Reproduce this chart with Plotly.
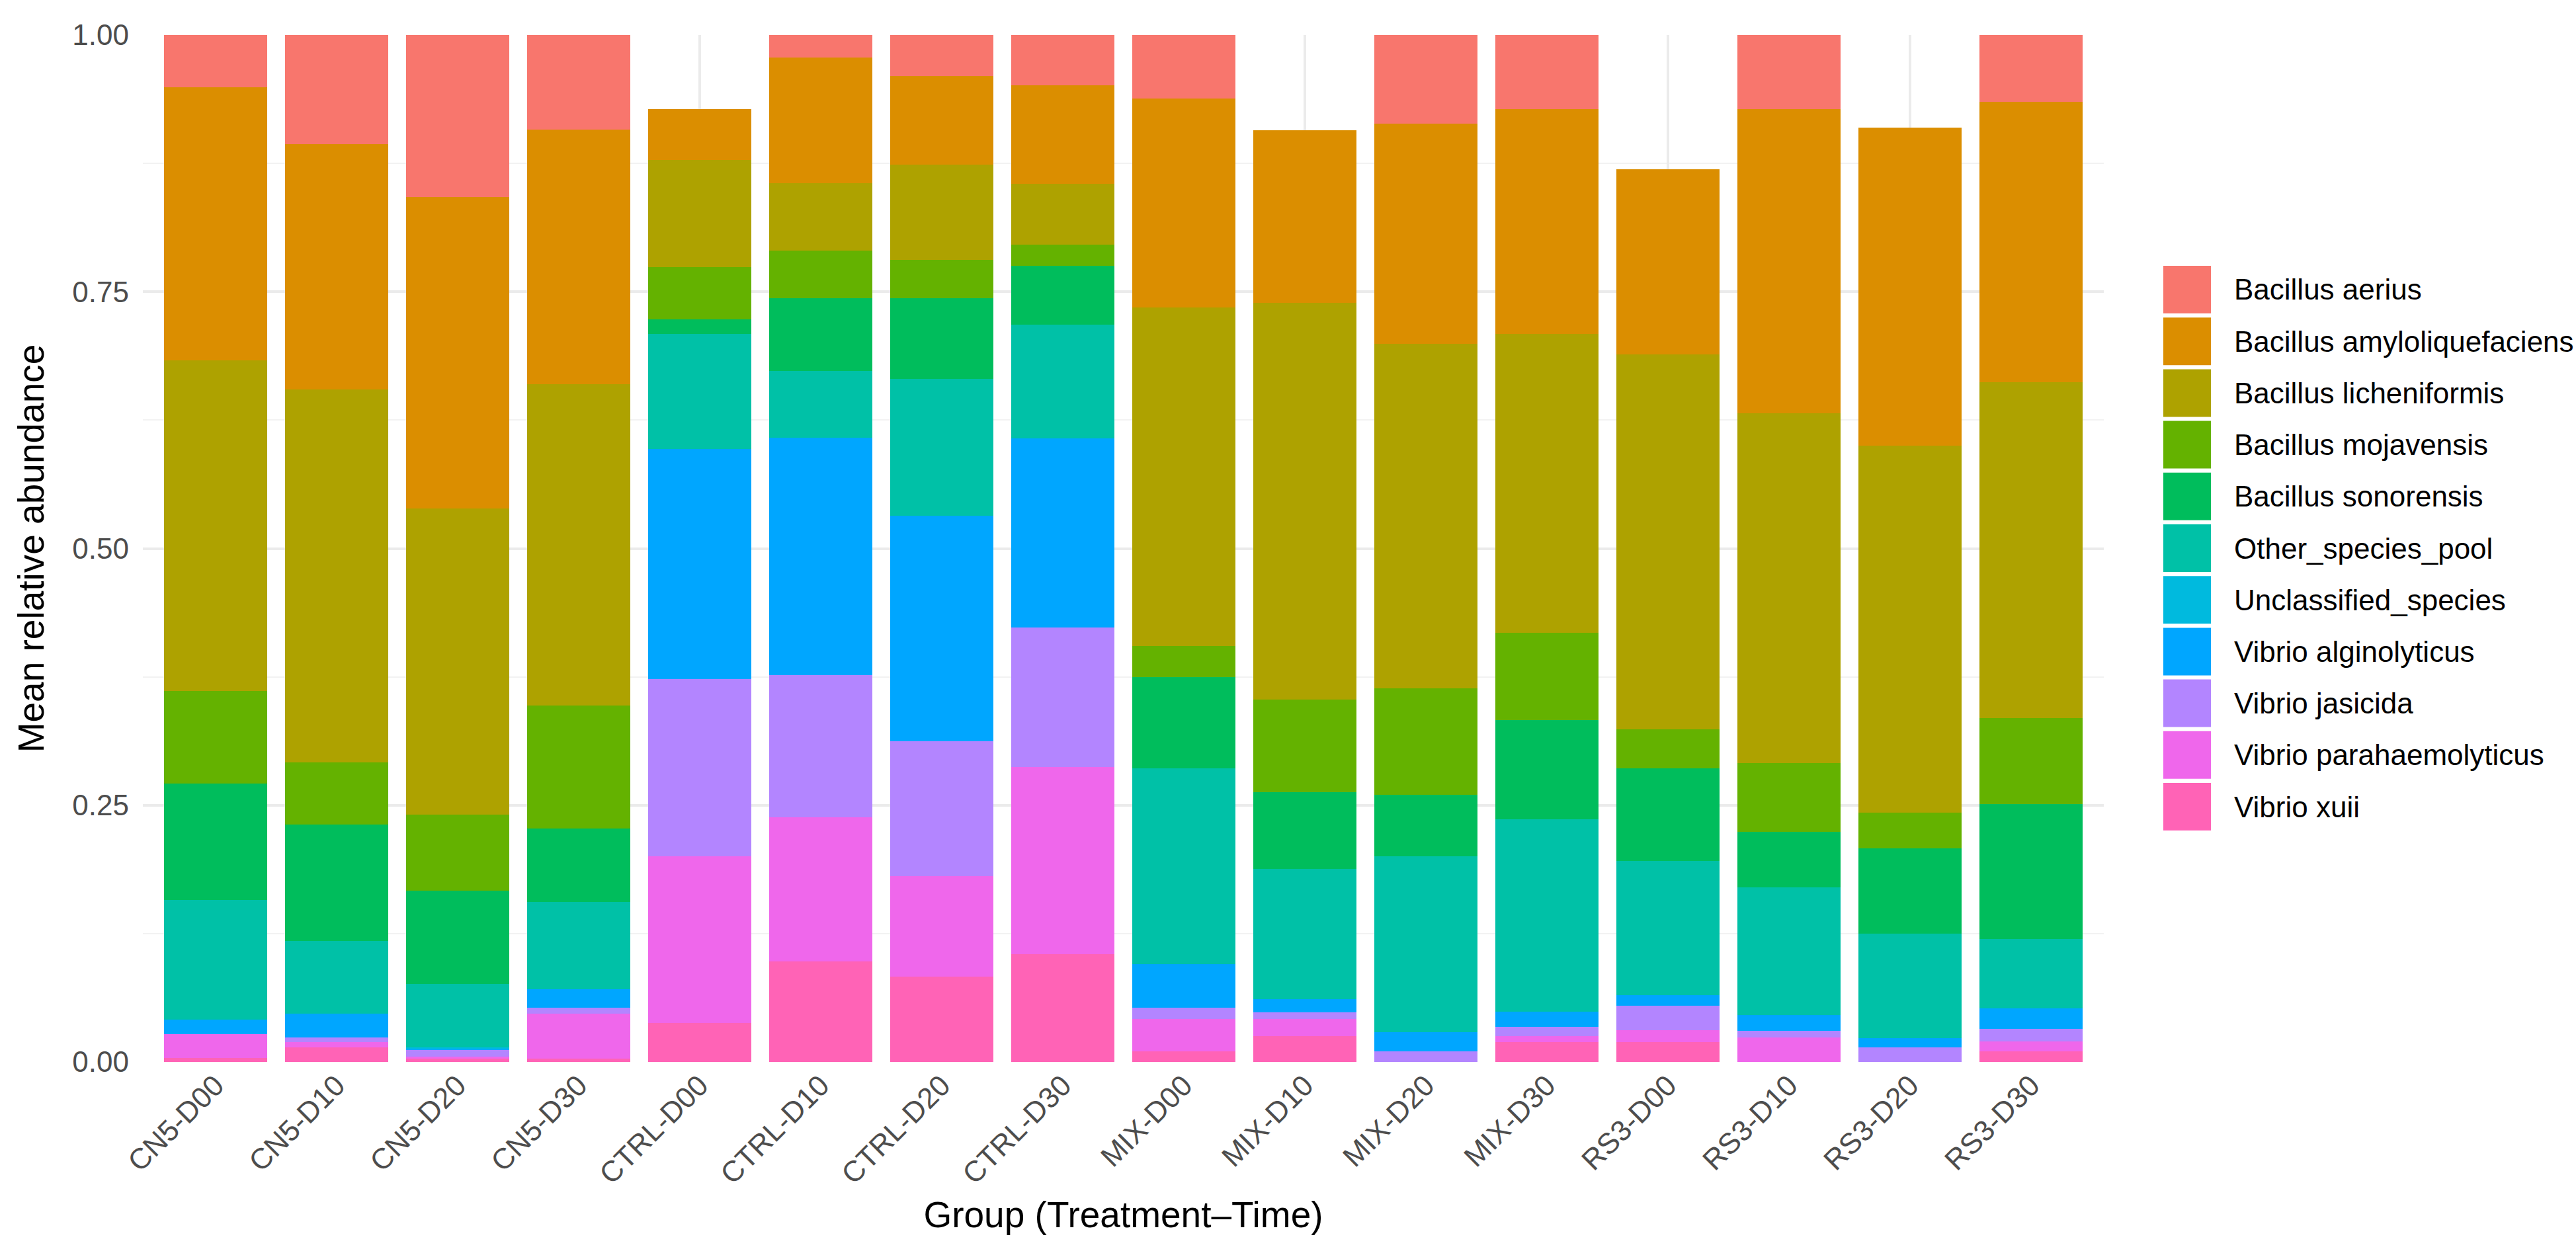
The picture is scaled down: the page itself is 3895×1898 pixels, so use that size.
import plotly.graph_objects as go

# Groups (Treatment-Time)
GROUPS = ["CN5-D00", "CN5-D10", "CN5-D20", "CN5-D30",
          "CTRL-D00", "CTRL-D10", "CTRL-D20", "CTRL-D30",
          "MIX-D00", "MIX-D10", "MIX-D20", "MIX-D30",
          "RS3-D00", "RS3-D10", "RS3-D20", "RS3-D30"]

# Species in legend order (top of stack first)
SPECIES = ["Bacillus aerius", "Bacillus amyloliquefaciens", "Bacillus licheniformis",
           "Bacillus mojavensis", "Bacillus sonorensis", "Other_species_pool",
           "Unclassified_species", "Vibrio alginolyticus", "Vibrio jasicida",
           "Vibrio parahaemolyticus", "Vibrio xuii"]

# Mean relative abundance per species, one value per group
aerius = [0.051, 0.106, 0.159, 0.092, 0.000, 0.022, 0.040, 0.049,
          0.062, 0.000, 0.086, 0.072, 0.000, 0.073, 0.000, 0.065]
amyloliquefaciens = [0.266, 0.239, 0.303, 0.248, 0.050, 0.122, 0.086, 0.096,
                     0.203, 0.168, 0.215, 0.219, 0.180, 0.296, 0.310, 0.273]
licheniformis = [0.322, 0.363, 0.298, 0.313, 0.104, 0.066, 0.093, 0.059,
                 0.330, 0.386, 0.335, 0.291, 0.365, 0.341, 0.357, 0.327]
mojavensis = [0.090, 0.061, 0.074, 0.120, 0.051, 0.046, 0.037, 0.021,
              0.030, 0.090, 0.104, 0.085, 0.038, 0.067, 0.035, 0.084]
sonorensis = [0.113, 0.113, 0.091, 0.071, 0.014, 0.071, 0.079, 0.057,
              0.089, 0.075, 0.060, 0.097, 0.090, 0.054, 0.083, 0.131]
other_pool = [0.117, 0.071, 0.062, 0.085, 0.112, 0.065, 0.133, 0.111,
              0.191, 0.127, 0.171, 0.187, 0.131, 0.124, 0.102, 0.068]
unclassified = [0.000, 0.000, 0.001, 0.000, 0.000, 0.000, 0.000, 0.000,
                0.000, 0.000, 0.000, 0.000, 0.000, 0.000, 0.000, 0.000]
alginolyticus = [0.014, 0.023, 0.001, 0.018, 0.224, 0.231, 0.220, 0.184,
                 0.042, 0.013, 0.019, 0.015, 0.010, 0.016, 0.009, 0.020]
jasicida = [0.000, 0.005, 0.007, 0.006, 0.173, 0.139, 0.131, 0.136,
            0.011, 0.006, 0.010, 0.009, 0.024, 0.006, 0.014, 0.012]
parahaemolyticus = [0.023, 0.005, 0.002, 0.044, 0.162, 0.140, 0.098, 0.182,
                    0.032, 0.017, 0.000, 0.006, 0.012, 0.024, 0.000, 0.010]
xuii = [0.004, 0.014, 0.003, 0.003, 0.038, 0.098, 0.083, 0.105,
        0.010, 0.025, 0.000, 0.019, 0.019, 0.000, 0.000, 0.010]

VALUES = [aerius, amyloliquefaciens, licheniformis, mojavensis, sonorensis,
          other_pool, unclassified, alginolyticus, jasicida, parahaemolyticus, xuii]

# ggplot2 default hue palette for 11 levels
COLORS = ["#F8766D", "#DB8E00", "#AEA200", "#64B200", "#00BD5C", "#00C1A7",
          "#00BADE", "#00A6FF", "#B385FF", "#EF67EB", "#FF63B6"]

FONT = "Liberation Sans, Arial, sans-serif"
W, H = 3895, 1898
# plot area in pixels
L, R, T, B = 216, 3181, 53, 1606

fig = go.Figure()

# first trace sits at the bottom of the stack
for name, vals, col in reversed(list(zip(SPECIES, VALUES, COLORS))):
    fig.add_trace(go.Bar(
        x=GROUPS, y=vals, name=name,
        marker=dict(color=col, line=dict(width=0)),
        showlegend=False,
        hovertemplate=name + "<br>%{x}: %{y:.3f}<extra></extra>"
    ))

# manual legend with large square keys like ggplot
def px_x(p):
    return (p - L) / (R - L)

def px_y(p):
    return (B - p) / (B - T)

key_top, key_pitch, key_size = 402, 78.2, 72
key_left, text_left = 3271, 3376
shapes, annotations = [], []
for i, (name, col) in enumerate(zip(SPECIES, COLORS)):
    top = key_top + i * key_pitch
    shapes.append(dict(type="rect", xref="paper", yref="paper",
                       x0=px_x(key_left), x1=px_x(key_left + key_size),
                       y0=px_y(top + key_size), y1=px_y(top),
                       fillcolor=col, line=dict(width=0), layer="above"))
    annotations.append(dict(xref="paper", yref="paper",
                            x=px_x(text_left), y=px_y(top + key_size / 2),
                            text=name, showarrow=False,
                            xanchor="left", yanchor="middle",
                            font=dict(family=FONT, size=44, color="black")))

fig.update_layout(
    barmode="stack",
    bargap=0.15,
    width=W, height=H,
    margin=dict(l=L, r=W - R, t=T, b=H - B, autoexpand=False),
    plot_bgcolor="white",
    paper_bgcolor="white",
    font=dict(family=FONT, color="black"),
    shapes=shapes,
    annotations=annotations,
    xaxis=dict(
        title=dict(text="Group (Treatment\u2013Time)", standoff=18,
                   font=dict(size=55, color="black")),
        range=[-0.6, len(GROUPS) - 0.4],
        tickangle=-45,
        tickfont=dict(size=44, color="#4D4D4D"),
        showgrid=True, gridcolor="#EBEBEB", gridwidth=3.5,
        zeroline=False, showline=False, ticks="",
        automargin=False,
    ),
    yaxis=dict(
        title=dict(text="Mean relative abundance", standoff=25,
                   font=dict(size=55, color="black")),
        range=[0, 1],
        tickvals=[0, 0.25, 0.5, 0.75, 1.0],
        tickformat=".2f",
        tickfont=dict(size=44, color="#4D4D4D"),
        ticklabelstandoff=20,
        showgrid=True, gridcolor="#EBEBEB", gridwidth=3.5,
        minor=dict(dtick=0.125, showgrid=True, gridcolor="#F2F2F2", gridwidth=2),
        zeroline=False, showline=False, ticks="",
        automargin=False,
    ),
)

fig.write_html("out.html", config={"displayModeBar": False},
               post_script="document.body.style.margin='0';")
